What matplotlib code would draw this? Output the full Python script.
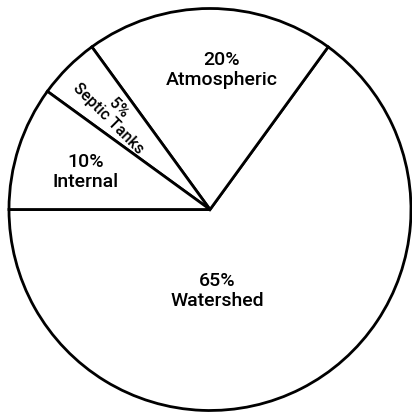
import numpy as np
import matplotlib.pyplot as plt

# share of nutrient load by source
sources = ["Watershed", "Atmospheric", "Septic Tanks", "Internal"]
shares = [65, 20, 5, 10]

fig = plt.figure(figsize=(4.12, 4.14), dpi=100)
ax = fig.add_axes([0, 0, 1, 1])

wedges, _ = ax.pie(shares, startangle=180, counterclock=True, radius=1.0,
                   colors=["white"] * len(shares),
                   wedgeprops=dict(edgecolor="black", linewidth=2.0))

# 201 px per unit in both directions keeps the circle round
ax.set_xlim(-210 / 201, (412 - 210) / 201)
ax.set_ylim(-203.5 / 201, (414 - 203.5) / 201)
ax.set_aspect("auto")
ax.axis("off")

fs = 14
font = ["Roboto", "DejaVu Sans"]
weight = "medium"

# label spots for each slice (data units)
spots = {"Watershed": (0.035, -0.40),
         "Atmospheric": (0.06, 0.70),
         "Internal": (-0.62, 0.19)}

for w, name, pct in zip(wedges, sources, shares):
    txt = f"{pct}%\n{name}"
    if name in spots:
        x, y = spots[name]
        ax.text(x, y, txt, ha="center", va="center", fontsize=fs,
                family=font, weight=weight, linespacing=1.15)
    else:
        # narrow slice: run the text along the radius
        mid = np.deg2rad((w.theta1 + w.theta2) / 2)
        r = 0.68
        ax.text(r * np.cos(mid), r * np.sin(mid), txt,
                ha="center", va="center", fontsize=fs - 2.5, family=font,
                weight=weight, linespacing=1.0,
                rotation=np.rad2deg(mid) - 180, rotation_mode="anchor")

fig.savefig("out.png", dpi=100)
